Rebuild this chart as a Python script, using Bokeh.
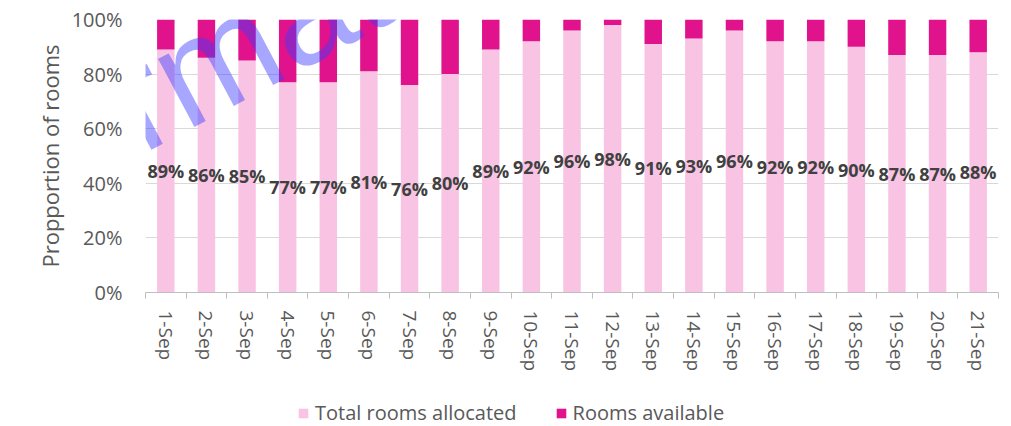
import math
from bokeh.plotting import figure
from bokeh.layouts import column
from bokeh.models import (Range1d, FixedTicker, ColumnDataSource, Legend, LegendItem,
                          Label, NumeralTickFormatter)
from bokeh.core.properties import value
from bokeh.embed import file_html
from bokeh.resources import INLINE

# ---- data ----
days = ["1-Sep", "2-Sep", "3-Sep", "4-Sep", "5-Sep", "6-Sep", "7-Sep", "8-Sep", "9-Sep",
        "10-Sep", "11-Sep", "12-Sep", "13-Sep", "14-Sep", "15-Sep", "16-Sep", "17-Sep",
        "18-Sep", "19-Sep", "20-Sep", "21-Sep"]
allocated_pct = [89, 86, 85, 77, 77, 81, 76, 80, 89, 92, 96, 98, 91, 93, 96, 92, 92, 90, 87, 87, 88]
series_names = ["Total rooms allocated", "Rooms available"]
y_ticks = [0, 0.2, 0.4, 0.6, 0.8, 1.0]

PINK = "#F9C4E3"
MAGENTA = "#E0138C"
FONT = "Open Sans"
GREY = "#595959"

xs = list(range(1, len(days) + 1))
alloc = [v / 100 for v in allocated_pct]
avail = [1 - a for a in alloc]
src = ColumnDataSource(dict(
    x=xs, alloc=alloc, avail=avail,
    mid=[a / 2 for a in alloc],
    lab=[f"{v}%" for v in allocated_pct],
))

p = figure(width=1003, height=380, output_backend="svg", toolbar_location=None,
           x_range=Range1d(0.5, len(days) + 0.5), y_range=Range1d(0, 1),
           min_border_left=145, min_border_right=5, min_border_top=19, min_border_bottom=88)
p.outline_line_color = None
p.background_fill_color = "white"

rs = p.vbar_stack(["alloc", "avail"], x="x", width=0.43, source=src,
                  color=[PINK, MAGENTA], line_color=None)

p.text(x="x", y="mid", text="lab", source=src, text_align="center", text_baseline="middle",
       text_font=value(FONT), text_font_style="bold", text_font_size="18px", text_color="#404040")

# y axis
p.yaxis.ticker = FixedTicker(ticks=y_ticks)
p.yaxis.formatter = NumeralTickFormatter(format="0%")
p.yaxis.axis_line_color = None
p.yaxis.major_tick_line_color = None
p.yaxis.major_tick_out = 0
p.yaxis.major_tick_in = 0
p.yaxis.minor_tick_line_color = None
p.yaxis.major_label_standoff = 23
p.yaxis.major_label_text_font = FONT
p.yaxis.major_label_text_font_size = "20px"
p.yaxis.major_label_text_color = GREY
p.yaxis.axis_label = "Propportion of rooms"
p.yaxis.axis_label_text_font = FONT
p.yaxis.axis_label_text_font_size = "22px"
p.yaxis.axis_label_text_font_style = "normal"
p.yaxis.axis_label_text_color = GREY
p.yaxis.axis_label_standoff = 4

p.ygrid.ticker = FixedTicker(ticks=y_ticks)
p.ygrid.grid_line_color = "#D9D9D9"
p.xgrid.grid_line_color = None

# x axis: labels at bar centres, tick marks between categories
p.xaxis.ticker = FixedTicker(ticks=xs, minor_ticks=[x - 0.5 for x in xs] + [xs[-1] + 0.5])
p.xaxis.major_label_overrides = {x: d for x, d in zip(xs, days)}
p.xaxis.major_tick_line_color = None
p.xaxis.major_tick_out = 0
p.xaxis.major_tick_in = 0
p.xaxis.minor_tick_line_color = "#BFBFBF"
p.xaxis.minor_tick_in = 0
p.xaxis.minor_tick_out = 6
p.xaxis.axis_line_color = "#BFBFBF"
p.xaxis.major_label_orientation = "vertical"
p.xaxis.major_label_standoff = 12
p.xaxis.major_label_text_font = FONT
p.xaxis.major_label_text_font_size = "19px"
p.xaxis.major_label_text_color = GREY

# watermark
wm = Label(x=-5.45, y=0.25, text="Information", angle=math.radians(28),
           text_font="Liberation Sans", text_font_size="146px", text_color="#3B3BFF",
           text_alpha=0.45, text_align="left", text_baseline="alphabetic")
p.add_layout(wm)

# legend strip below the chart (hidden proxy renderers carry the swatch colours)
p2 = figure(width=1003, height=46, output_backend="svg", toolbar_location=None,
            x_range=Range1d(0, 1), y_range=Range1d(0, 1),
            x_axis_type=None, y_axis_type=None,
            min_border_left=0, min_border_right=0, min_border_top=0, min_border_bottom=0)
p2.outline_line_color = None
l1 = p2.vbar(x=[0.5], top=[1], width=0.1, color=PINK, line_color=None, visible=False)
l2 = p2.vbar(x=[0.5], top=[1], width=0.1, color=MAGENTA, line_color=None, visible=False)
legend = Legend(items=[LegendItem(label=series_names[0], renderers=[l1]),
                       LegendItem(label=series_names[1], renderers=[l2])],
                location=(152, 0), orientation="horizontal",
                padding=0, margin=0, spacing=38, label_standoff=6,
                glyph_width=12, glyph_height=12, label_height=20,
                label_text_font=FONT, label_text_font_size="20px", label_text_color=GREY,
                border_line_color=None, background_fill_alpha=0)
p2.add_layout(legend)

open("out.html", "w").write(file_html(column(p, p2, spacing=0), INLINE))
